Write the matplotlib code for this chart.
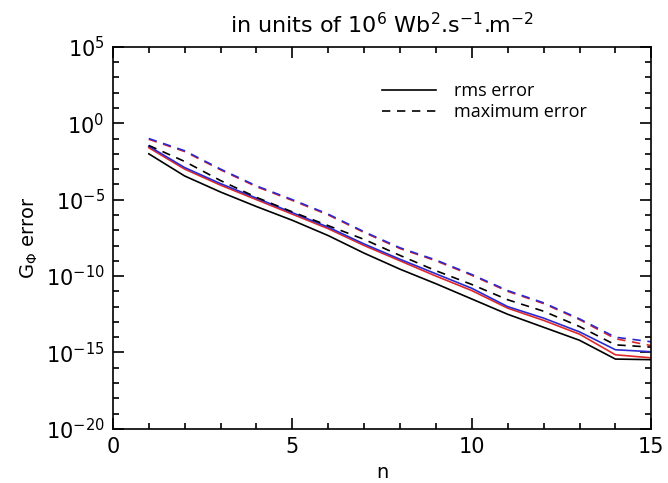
import numpy as np
import matplotlib
matplotlib.use("Agg")
import matplotlib.pyplot as plt
from matplotlib.ticker import FixedLocator, LogFormatterSciNotation, NullFormatter, MultipleLocator
from matplotlib.lines import Line2D

plt.rcParams['mathtext.default'] = 'regular'

# n values and log10 of the errors
n = np.arange(1, 16)
rms_black = [-2.0, -3.45, -4.5, -5.45, -6.35, -7.35, -8.5, -9.55, -10.5, -11.5, -12.5, -13.35, -14.2, -15.43, -15.47]
rms_red = [-1.6, -3.0, -4.05, -5.0, -5.95, -6.9, -8.0, -9.0, -10.0, -10.95, -12.1, -12.9, -13.8, -15.15, -15.35]
rms_blue = [-1.5, -2.9, -3.95, -4.9, -5.85, -6.8, -7.9, -8.9, -9.85, -10.8, -12.0, -12.75, -13.65, -14.82, -14.95]
max_black = [-1.45, -2.5, -3.75, -4.85, -5.8, -6.7, -7.6, -8.65, -9.65, -10.55, -11.55, -12.3, -13.3, -14.5, -14.65]
max_red = [-1.05, -1.85, -3.05, -4.15, -5.05, -6.0, -7.15, -8.2, -9.0, -9.95, -11.0, -11.8, -12.85, -14.1, -14.55]
max_blue = [-1.0, -1.8, -3.0, -4.1, -5.0, -5.95, -7.1, -8.15, -8.95, -9.9, -10.95, -11.75, -12.8, -14.0, -14.3]

blue = '#2a2ad0'
red = '#e02828'
dash = (0, (5, 4))

fig = plt.figure(figsize=(6.68, 4.83), dpi=100)
ax = fig.add_axes([0.169, 0.112, 0.806, 0.791])

lw = 1.2
ax.plot(n, 10.0 ** np.array(rms_black), color='black', lw=lw)
ax.plot(n, 10.0 ** np.array(rms_red), color=red, lw=lw)
ax.plot(n, 10.0 ** np.array(rms_blue), color=blue, lw=lw)
ax.plot(n, 10.0 ** np.array(max_black), color='black', lw=lw, linestyle=dash)
ax.plot(n, 10.0 ** np.array(max_red), color=red, lw=lw, linestyle=dash)
ax.plot(n, 10.0 ** np.array(max_blue), color=blue, lw=lw, linestyle=dash)

ax.set_yscale('log')
ax.set_xlim(0, 15)
ax.set_ylim(1e-20, 1e5)

ax.xaxis.set_major_locator(MultipleLocator(5))
ax.xaxis.set_minor_locator(MultipleLocator(1))
ax.yaxis.set_major_locator(FixedLocator(10.0 ** np.arange(-20, 6, 5)))
ax.yaxis.set_minor_locator(FixedLocator(10.0 ** np.arange(-20, 6, 1)))
ax.yaxis.set_major_formatter(LogFormatterSciNotation())
ax.yaxis.set_minor_formatter(NullFormatter())

ax.tick_params(which='both', direction='in', top=True, right=True, labelsize=15, width=1.2)
ax.tick_params(which='major', length=8, pad=6)
ax.tick_params(which='minor', length=4)
for s in ax.spines.values():
    s.set_linewidth(1.2)

ax.set_xlabel('n', fontsize=14)
ax.set_ylabel(r'G$_{\Phi}$ error', fontsize=14, labelpad=4)
ax.set_title(r'in units of 10$^6$ Wb$^2$.s$^{-1}$.m$^{-2}$', fontsize=16, pad=10)

handles = [Line2D([], [], color='black', lw=lw),
           Line2D([], [], color='black', lw=lw, linestyle=dash)]
ax.legend(handles, ['rms error', 'maximum error'], loc='upper left',
          bbox_to_anchor=(0.47, 0.95), frameon=False, handlelength=3.0,
          handletextpad=1.0, labelspacing=0.15,
          prop={'family': 'Open Sans', 'size': 13})

fig.savefig('out.png', dpi=100)
